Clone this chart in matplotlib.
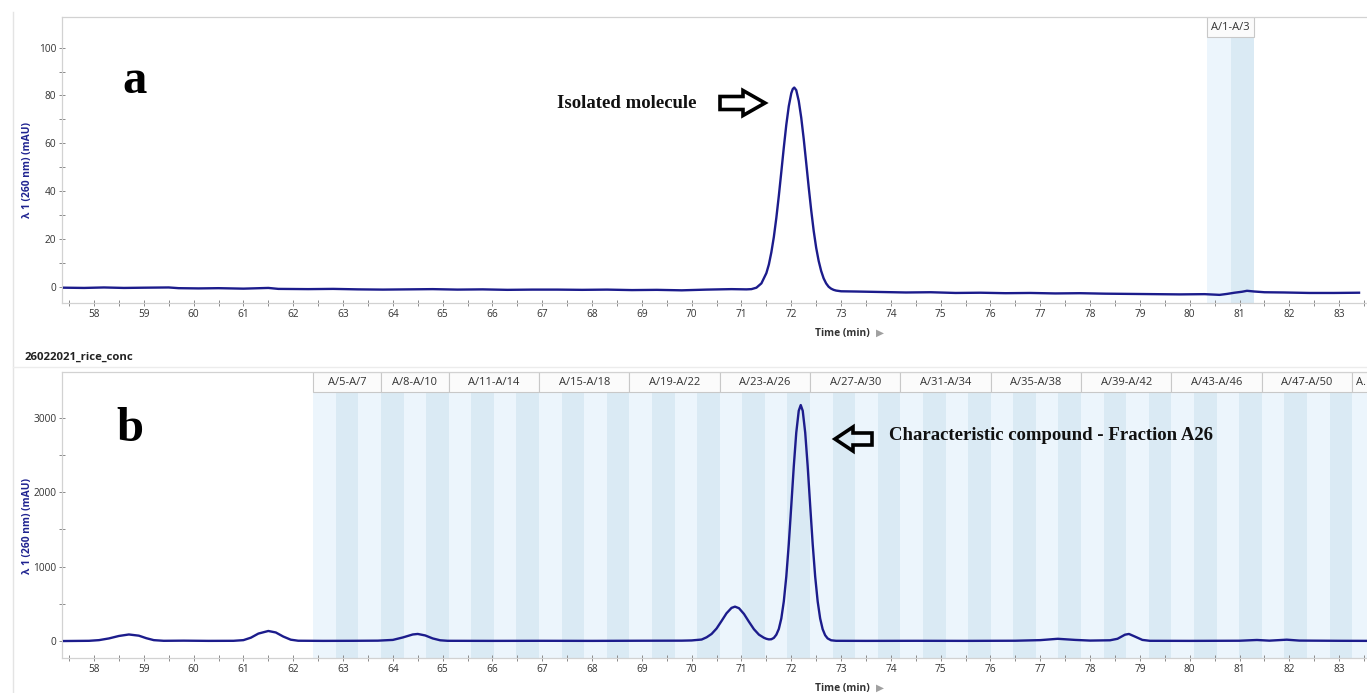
import matplotlib
matplotlib.use("Agg")
import matplotlib.pyplot as plt
import matplotlib.transforms as mtransforms
from matplotlib.patches import Rectangle, Polygon
from matplotlib.ticker import MultipleLocator, FixedLocator

# ---------------------------------------------------------------------------
# data (time in min, signal in mAU)

top_time = [57.40, 57.8, 58.2, 58.6, 59.0, 59.5, 59.7, 60.1, 60.5, 61.0, 61.5, 61.7,
            62.3, 62.8, 63.3, 63.8, 64.3, 64.8, 65.3, 65.8, 66.3, 66.8, 67.3, 67.8,
            68.3, 68.8, 69.3, 69.8, 70.3, 70.8, 71.1, 71.2, 71.3, 71.4, 71.5, 71.55,
            71.6, 71.65, 71.7, 71.75, 71.8, 71.85, 71.9, 71.95, 72.0, 72.03, 72.06, 72.1,
            72.15, 72.2, 72.25, 72.3, 72.35, 72.4, 72.45, 72.5, 72.55, 72.6, 72.65, 72.7,
            72.75, 72.8, 72.85, 72.9, 73.0, 73.3, 73.8, 74.3, 74.8, 75.3, 75.8, 76.3,
            76.8, 77.3, 77.8, 78.3, 78.8, 79.3, 79.8, 80.3, 80.6, 80.75, 80.9, 81.05,
            81.15, 81.3, 81.5, 81.9, 82.4, 82.9, 83.4]
top_mau = [-0.4, -0.5, -0.3, -0.5, -0.4, -0.3, -0.6, -0.7, -0.6, -0.8, -0.5, -0.9,
           -1.0, -0.9, -1.1, -1.2, -1.1, -1.0, -1.2, -1.1, -1.3, -1.2, -1.2, -1.3,
           -1.2, -1.4, -1.3, -1.5, -1.2, -1.0, -1.1, -1.0, -0.4, 1.4, 5.7, 9.3,
           14.4, 20.8, 28.8, 38, 48, 58.2, 67.7, 75.5, 80.9, 82.7, 83.3, 82.2,
           77.7, 70.7, 61.8, 51.8, 41.6, 32, 23.4, 16.3, 10.8, 6.6, 3.5, 1.4,
           0, -0.8, -1.3, -1.6, -1.9, -2.0, -2.2, -2.4, -2.3, -2.6, -2.5, -2.7,
           -2.6, -2.8, -2.7, -2.9, -3.0, -3.1, -3.2, -3.1, -3.4, -3.0, -2.5, -2.1,
           -1.7, -2.0, -2.3, -2.4, -2.6, -2.6, -2.5]

bot_time = [57.4, 57.9, 58.1, 58.3, 58.5, 58.7, 58.9, 59.05, 59.2, 59.4, 59.8, 60.3,
            60.8, 61.0, 61.15, 61.3, 61.5, 61.65, 61.8, 61.95, 62.1, 62.6, 63.2, 63.7,
            64.0, 64.2, 64.4, 64.5, 64.65, 64.8, 64.95, 65.1, 66.0, 67.0, 68.0, 69.0,
            69.8, 70.0, 70.2, 70.3, 70.4, 70.5, 70.6, 70.7, 70.8, 70.87, 70.95, 71.05,
            71.15, 71.25, 71.35, 71.45, 71.5, 71.55, 71.6, 71.65, 71.7, 71.75, 71.8, 71.85,
            71.9, 71.95, 72.0, 72.05, 72.1, 72.15, 72.19, 72.23, 72.28, 72.33, 72.38, 72.43,
            72.48, 72.53, 72.58, 72.63, 72.68, 72.73, 72.8, 72.9, 73.5, 74.5, 75.5, 76.5,
            77.0, 77.35, 77.7, 78.0, 78.4, 78.55, 78.7, 78.78, 78.9, 79.05, 79.2, 80.0,
            81.0, 81.35, 81.6, 81.95, 82.2, 83.0, 83.6]
bot_mau = [0, 3, 12, 35, 68, 88, 72, 38, 12, 3, 5, 2,
           3, 12, 45, 100, 135, 115, 60, 18, 4, 2, 3, 5,
           15, 48, 88, 95, 75, 35, 10, 3, 2, 3, 2, 4,
           5, 8, 20, 50, 95, 168, 269, 373, 445, 462, 441, 364,
           259, 159, 86, 44, 30, 22, 24, 42, 85, 162, 303, 532,
           866, 1303, 1816, 2343, 2798, 3093, 3170, 3093, 2798, 2343, 1816, 1303,
           866, 532, 303, 159, 78, 35, 10, 3, 2, 3, 2, 4,
           12, 30, 15, 6, 10, 30, 85, 95, 60, 15, 3, 2,
           4, 14, 5, 18, 6, 3, 2]

# fraction collector groups
top_groups = ["A/1-A/3"]
top_fraction_edges = [80.35, 80.82, 81.29]

bot_groups = ["A/5-A/7", "A/8-A/10", "A/11-A/14", "A/15-A/18", "A/19-A/22",
              "A/23-A/26", "A/27-A/30", "A/31-A/34", "A/35-A/38", "A/39-A/42",
              "A/43-A/46", "A/47-A/50", "A/51-A/54"]
bot_group_sizes = [3, 3, 4, 4, 4, 4, 4, 4, 4, 4, 4, 4, 4]
bot_first_fraction = 5
bot_start = 62.40
bot_fraction_width = 0.4535

# ---------------------------------------------------------------------------
W, H = 1367, 693
fig = plt.figure(figsize=(W / 100, H / 100), dpi=100)
fig.patch.set_facecolor("white")

SANS = ["Open Sans", "DejaVu Sans"]
SERIF = ["Liberation Serif", "DejaVu Serif"]
LINE = "#1c1c8c"
LIGHT = "#ecf5fc"
DARK = "#daeaf4"
XLIM = (57.357, 83.56)


def fx(px):
    return px / W


def fy(py):
    return 1 - py / H


def style(ax, ylim, ymajor, yminor):
    ax.set_xlim(*XLIM)
    ax.set_ylim(*ylim)
    ax.xaxis.set_major_locator(MultipleLocator(1))
    ax.xaxis.set_minor_locator(MultipleLocator(0.5))
    ax.yaxis.set_major_locator(FixedLocator(ymajor))
    ax.yaxis.set_minor_locator(FixedLocator(yminor))
    ax.spines["right"].set_visible(False)
    for s in ["top", "left", "bottom"]:
        ax.spines[s].set_color("#d2d2d2")
        ax.spines[s].set_linewidth(0.9)
    ax.tick_params(which="both", direction="inout", length=4, width=0.7,
                   color="#8a8a8a", labelsize=7.3, labelcolor="#333333", pad=2)
    for lab in ax.get_xticklabels() + ax.get_yticklabels():
        lab.set_family(SANS)


def fractions(ax, edges, first_index, labels, sizes, hdr=0.07):
    trans = mtransforms.blended_transform_factory(ax.transData, ax.transAxes)
    for i in range(len(edges) - 1):
        col = LIGHT if (first_index + i) % 2 == 1 else DARK
        ax.axvspan(edges[i], edges[i + 1], ymin=0, ymax=1 - hdr, color=col,
                   lw=0, zorder=0)
    k = 0
    for lab, n in zip(labels, sizes):
        x0 = edges[k]
        x1 = edges[min(k + n, len(edges) - 1)]
        ax.add_patch(Rectangle((x0, 1 - hdr), x1 - x0, hdr, transform=trans,
                               facecolor="#fbfbfb", edgecolor="#c8c8c8", lw=0.8,
                               zorder=1, clip_on=True))
        if x1 <= XLIM[1]:
            ax.text((x0 + x1) / 2, 1 - hdr / 2, lab, transform=trans, ha="center",
                    va="center", fontsize=8, color="#333333", family=SANS, zorder=2)
        else:
            # software truncates the label that does not fit
            ax.text(x0 + 0.08, 1 - hdr / 2, lab[:1] + ".", transform=trans,
                    ha="left", va="center", fontsize=8, color="#333333",
                    family=SANS, zorder=2, clip_on=True)
        k += n


def hollow_arrow(tail, tip, yc, base, head_h, shaft_h):
    pts = [(tail, yc - shaft_h), (base, yc - shaft_h), (base, yc - head_h), (tip, yc),
           (base, yc + head_h), (base, yc + shaft_h), (tail, yc + shaft_h)]
    poly = Polygon([(fx(x), fy(y)) for x, y in pts], closed=True,
                   transform=fig.transFigure, facecolor="none", edgecolor="black",
                   lw=2.6, joinstyle="miter", zorder=10)
    fig.add_artist(poly)


# ---------------------------------------------------------------------------
# panel a
ax_a = fig.add_axes([fx(62), fy(303), 1 - fx(62), (303 - 17) / H])
style(ax_a, (-6.8, 112.8), [0, 20, 40, 60, 80, 100], [10, 30, 50, 70, 90])
fractions(ax_a, top_fraction_edges, 1, top_groups, [3])
ax_a.plot(top_time, top_mau, color=LINE, lw=1.7, zorder=3)

# panel b
ax_b = fig.add_axes([fx(62), fy(658), 1 - fx(62), (658 - 372) / H])
style(ax_b, (-228, 3614), [0, 1000, 2000, 3000], [500, 1500, 2500])
n_frac = sum(bot_group_sizes)
bot_edges = [bot_start + i * bot_fraction_width for i in range(n_frac + 1)]
fractions(ax_b, bot_edges, bot_first_fraction, bot_groups, bot_group_sizes)
ax_b.plot(bot_time, bot_mau, color=LINE, lw=1.7, zorder=3)

# ---------------------------------------------------------------------------
# texts
for ycen in (170, 526):
    fig.text(fx(28), fy(ycen), "λ 1 (260 nm) (mAU)", rotation=90, ha="center",
             va="center", fontsize=7.4, fontweight="bold", color="#1f2390",
             family=SANS)

for ytop in (333, 688):
    fig.text(fx(842), fy(ytop), "Time (min)", ha="center", va="center",
             fontsize=7.4, fontweight="bold", color="#333333", family=SANS)
    fig.text(fx(880), fy(ytop), "▶", ha="center", va="center", fontsize=7.5,
             color="#a0a0a0", family=["DejaVu Sans"])

fig.text(fx(25), fy(357), "26022021_rice_conc", ha="left", va="center",
         fontsize=8.2, fontweight="bold", color="#222222", family=SANS)

fig.text(fx(135), fy(93), "a", ha="center", va="baseline", fontsize=35,
         fontweight="bold", family=SERIF)
fig.text(fx(130), fy(441), "b", ha="center", va="baseline", fontsize=35,
         fontweight="bold", family=SERIF)

fig.text(fx(557), fy(104), "Isolated molecule", ha="left", va="center",
         fontsize=13.5, fontweight="bold", family=SERIF, color="#111111")
hollow_arrow(720, 765, 103, 743, 12.5, 6.5)

fig.text(fx(889), fy(436), "Characteristic compound - Fraction A26", ha="left",
         va="center", fontsize=13.5, fontweight="bold", family=SERIF,
         color="#111111")
hollow_arrow(872, 835, 439, 853, 12, 6)

# faint outer frame of the software window
fig.add_artist(plt.Line2D([fx(13), fx(13)], [fy(12), 0], transform=fig.transFigure,
                          color="#e4e4e4", lw=1))
fig.add_artist(plt.Line2D([fx(13), 1], [fy(367), fy(367)], transform=fig.transFigure,
                          color="#ececec", lw=1))

fig.savefig("out.png", dpi=100, facecolor="white")
